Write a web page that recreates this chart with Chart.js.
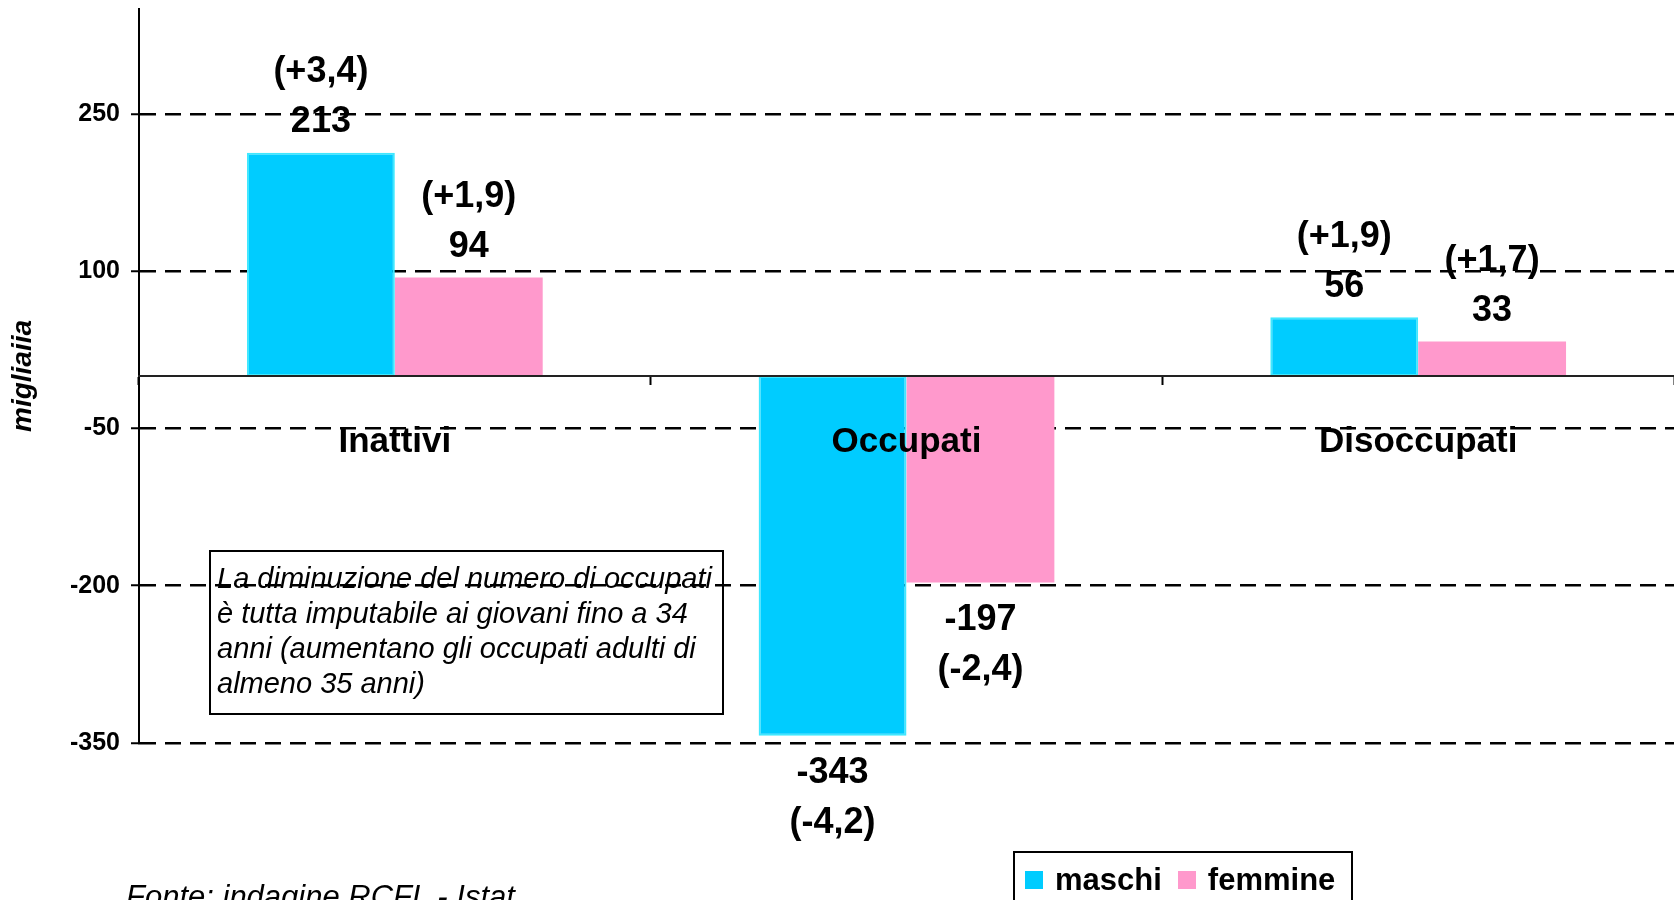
<!DOCTYPE html>
<html lang="it">
<head>
<meta charset="UTF-8">
<script src="https://cdn.jsdelivr.net/npm/chart.js"></script>
<style>
  body { margin: 0; background: #fff; overflow: hidden; font-family: "Liberation Sans", Arial, sans-serif; }
  .wrap { position: relative; width: 1674px; height: 900px; }
  canvas { position: absolute; left: 0; top: 0; }
  .nota {
    position: absolute; left: 209px; top: 550px; width: 515px; height: 165px;
    box-sizing: border-box; border: 2px solid #000; padding: 9px 0 0 6px;
    font-style: italic; font-size: 29px; line-height: 35px; white-space: nowrap;
  }
  .legenda {
    position: absolute; left: 1013px; top: 851px; width: 340px; height: 80px;
    box-sizing: border-box; border: 2px solid #000; padding: 8px 0 0 10px;
    font-weight: bold; font-size: 31px; line-height: 36px; white-space: nowrap;
  }
  .legenda .voce { display: inline-flex; align-items: center; margin-right: 16px; }
  .legenda .quad { width: 18px; height: 18px; margin-right: 12px; }
  .fonte { position: absolute; left: 126px; top: 881px; font-style: italic; font-size: 31px; line-height: 31px; white-space: nowrap; }
</style>
</head>
<body>
<div class="wrap">
  <canvas id="grafico" width="1674" height="900"></canvas>
  <div class="nota">La diminuzione del numero di occupati<br>è tutta imputabile ai giovani fino a 34<br>anni (aumentano gli occupati adulti di<br>almeno 35 anni)</div>
  <div class="legenda" id="legenda"></div>
  <div class="fonte">Fonte: indagine RCFL - Istat</div>
</div>

<script>
  const categorie = ['Inattivi', 'Occupati', 'Disoccupati'];
  const maschi = [213, -343, 56];
  const femmine = [94, -197, 33];
  const variazioniMaschi = ['+3,4', '-4,2', '+1,9'];
  const variazioniFemmine = ['+1,9', '-2,4', '+1,7'];
  const tickY = [-350, -200, -50, 100, 250];

  const font = '"Liberation Sans", Arial, sans-serif';

  // valori e variazioni % sopra/sotto le barre
  const etichette = {
    id: 'etichette',
    afterDatasetsDraw(chart) {
      const ctx = chart.ctx;
      const variazioni = [variazioniMaschi, variazioniFemmine];
      ctx.save();
      ctx.font = 'bold 36px ' + font;
      ctx.fillStyle = '#000';
      ctx.textAlign = 'center';
      ctx.textBaseline = 'middle';
      chart.data.datasets.forEach((ds, i) => {
        chart.getDatasetMeta(i).data.forEach((bar, j) => {
          const v = ds.data[j];
          const dir = v >= 0 ? -1 : 1;
          ctx.fillText(String(v), bar.x, bar.y + dir * 34 + 3.5);
          ctx.fillText('(' + variazioni[i][j] + ')', bar.x, bar.y + dir * 84 + 3.5);
        });
      });
      ctx.restore();
    }
  };

  const chart = new Chart(document.getElementById('grafico'), {
    type: 'bar',
    data: {
      labels: categorie,
      datasets: [
        { label: 'maschi', data: maschi, backgroundColor: '#00CCFF', borderColor: '#40E8FF', borderWidth: 2, borderSkipped: false },
        { label: 'femmine', data: femmine, backgroundColor: '#FF99CC', borderColor: '#FF99CC', borderWidth: 0 }
      ]
    },
    options: {
      responsive: false,
      animation: false,
      layout: { padding: { top: 9, bottom: 157, left: 0, right: 0 } },
      categoryPercentage: 0.578,
      barPercentage: 1.0,
      plugins: { legend: { display: false }, tooltip: { enabled: false } },
      scales: {
        x: {
          position: { y: 0 },
          grid: { display: true, drawOnChartArea: false, drawTicks: true, tickLength: 8, tickColor: '#000', tickWidth: 2, offset: true },
          border: { display: true, color: '#222', width: 2, z: 1 },
          ticks: { z: 1, color: '#000', padding: 37, font: { family: font, size: 35, weight: 'bold' } }
        },
        y: {
          min: -350,
          max: 350,
          afterBuildTicks: scale => { scale.ticks = tickY.map(v => ({ value: v })); },
          afterFit: scale => { scale.width = 139; scale.paddingTop = 0; scale.paddingBottom = 0; },
          grid: { color: '#000', lineWidth: 2.5, tickLength: 8, tickColor: '#000', tickWidth: 2 },
          border: { display: true, color: '#000', width: 2, dash: [16, 9] },
          ticks: { color: '#000', padding: 11, font: { family: font, size: 25, weight: 'bold' }, callback: v => String(v) },
          title: { display: true, text: 'migliaiia', color: '#000', padding: { top: 6, bottom: 0 }, font: { family: font, size: 28, weight: 'bold', style: 'italic' } }
        }
      }
    },
    plugins: [etichette]
  });

  // legenda costruita dai dataset
  const legenda = document.getElementById('legenda');
  chart.data.datasets.forEach(ds => {
    const voce = document.createElement('span');
    voce.className = 'voce';
    voce.innerHTML = `<span class="quad" style="background:${ds.backgroundColor}"></span>${ds.label}`;
    legenda.appendChild(voce);
  });
</script>
</body>
</html>
